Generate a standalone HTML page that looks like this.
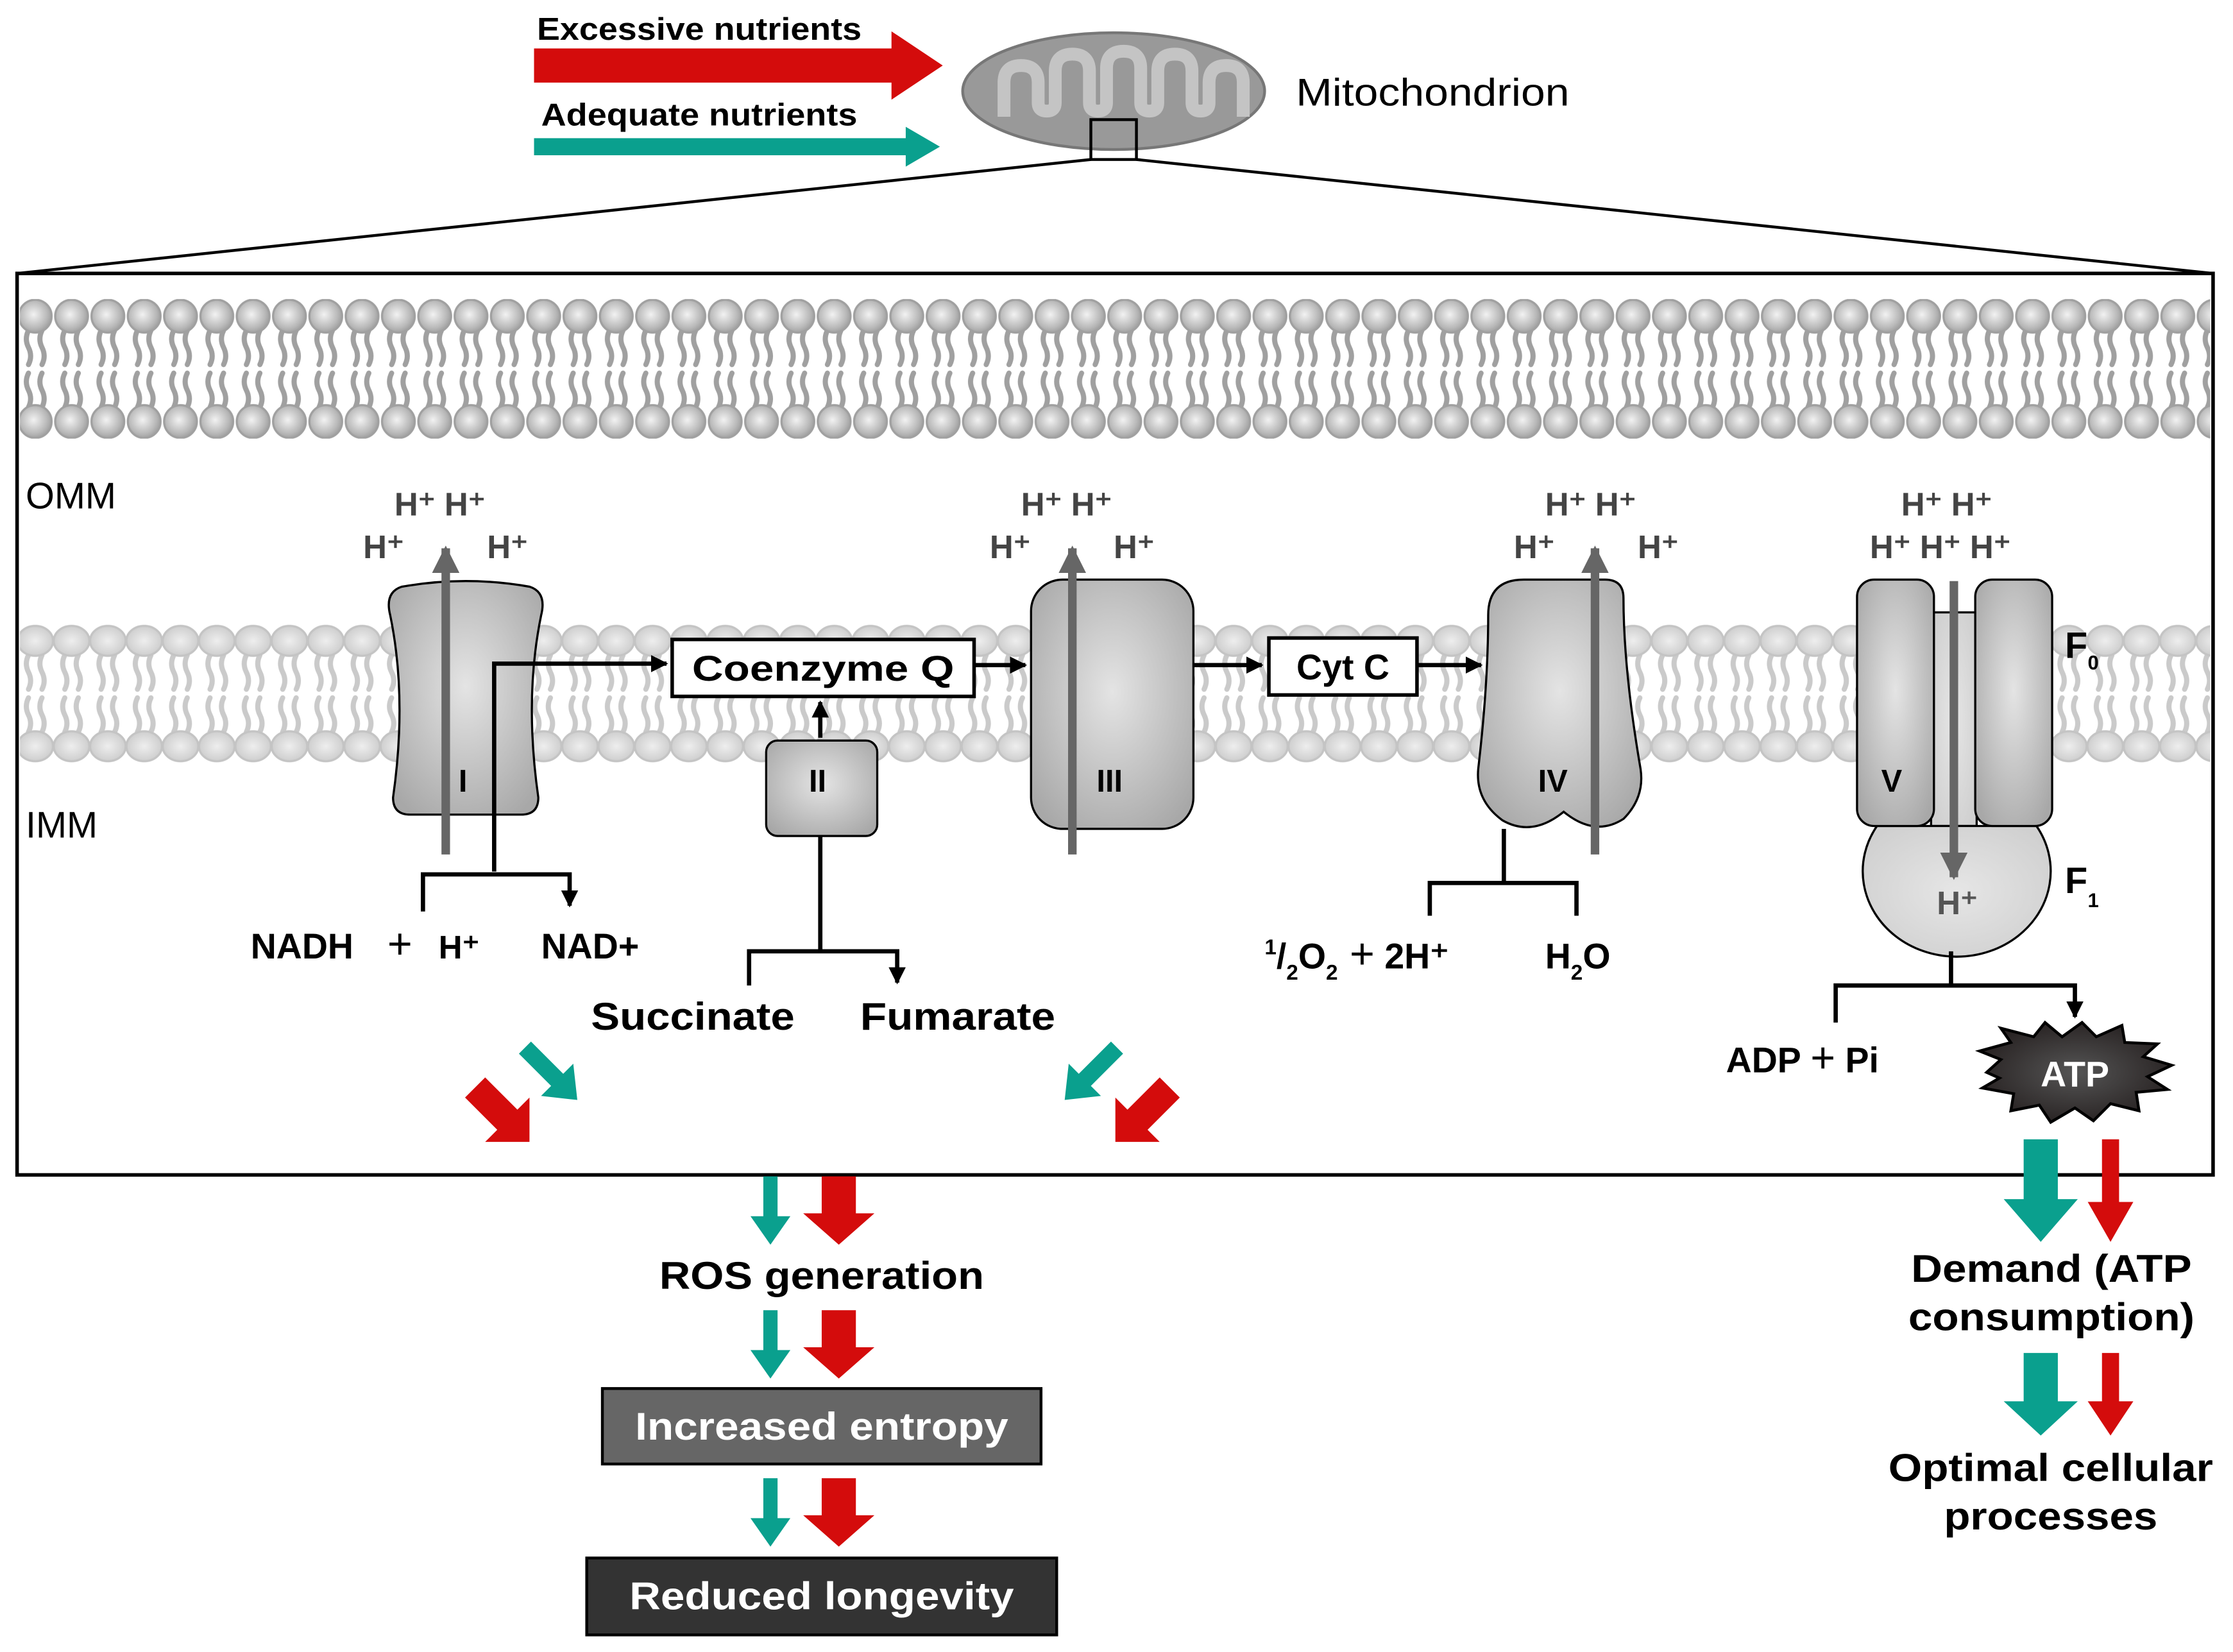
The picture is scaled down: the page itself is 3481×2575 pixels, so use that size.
<!DOCTYPE html>
<html><head><meta charset="utf-8"><style>
html,body{margin:0;padding:0;background:#fff}
svg{display:block}
text{font-family:"Liberation Sans",Arial,sans-serif;font-weight:bold}
</style></head><body>
<svg width="3481" height="2575" viewBox="0 0 1568 1160" preserveAspectRatio="none" xmlns="http://www.w3.org/2000/svg">
<defs>
<radialGradient id="hd" cx="0.45" cy="0.45" r="0.6"><stop offset="0" stop-color="#f2f2f2"/><stop offset="0.7" stop-color="#b8b8b8"/><stop offset="1" stop-color="#999"/></radialGradient>
<radialGradient id="hd2" cx="0.5" cy="0.5" r="0.6"><stop offset="0" stop-color="#eee"/><stop offset="1" stop-color="#c8c8c8"/></radialGradient>
<radialGradient id="cp" cx="0.5" cy="0.45" r="0.65"><stop offset="0" stop-color="#e4e4e4"/><stop offset="1" stop-color="#a8a8a8"/></radialGradient>
<radialGradient id="f1" cx="0.5" cy="0.5" r="0.6"><stop offset="0" stop-color="#e6e6e6"/><stop offset="1" stop-color="#d0d0d0"/></radialGradient>
<radialGradient id="atp" cx="0.5" cy="0.5" r="0.6"><stop offset="0" stop-color="#555"/><stop offset="1" stop-color="#221c1c"/></radialGradient>
<pattern id="mem1" x="12" y="210" width="25.5" height="98" patternUnits="userSpaceOnUse">
<g fill="none" stroke="#a0a0a0" stroke-width="3.6" stroke-linecap="round">
<path d="M8 22 q-3 6 0 12 t0 12"/><path d="M17.5 22 q-3 6 0 12 t0 12"/>
<path d="M8 52 q-3 6 0 12 t0 12"/><path d="M17.5 52 q-3 6 0 12 t0 12"/>
</g>
<circle cx="12.75" cy="12" r="11.5" fill="url(#hd)" stroke="#a0a0a0" stroke-width="1.5"/>
<circle cx="12.75" cy="86" r="11.5" fill="url(#hd)" stroke="#a0a0a0" stroke-width="1.5"/>
</pattern>
<pattern id="mem2" x="12" y="438" width="25.5" height="98" patternUnits="userSpaceOnUse">
<g fill="none" stroke="#cacaca" stroke-width="3.6" stroke-linecap="round">
<path d="M8 22 q-3 6 0 12 t0 12"/><path d="M17.5 22 q-3 6 0 12 t0 12"/>
<path d="M8 52 q-3 6 0 12 t0 12"/><path d="M17.5 52 q-3 6 0 12 t0 12"/>
</g>
<ellipse cx="12.75" cy="12" rx="12.5" ry="10.5" fill="url(#hd2)" stroke="#c4c4c4" stroke-width="1.5"/>
<ellipse cx="12.75" cy="86" rx="12.5" ry="10.5" fill="url(#hd2)" stroke="#c4c4c4" stroke-width="1.5"/>
</pattern>
<marker id="ab" viewBox="0 0 10 10" refX="9" refY="5" markerWidth="4" markerHeight="4" orient="auto"><path d="M0 0L10 5L0 10z" fill="#000"/></marker>
<marker id="ag" viewBox="0 0 10 10" refX="9" refY="5" markerWidth="3.2" markerHeight="3.2" orient="auto"><path d="M0 0L10 5L0 10z" fill="#666"/></marker>
</defs>

<text x="377" y="28" font-size="22" textLength="228" lengthAdjust="spacingAndGlyphs">Excessive nutrients</text>
<path d="M375 34H626V22L662 46L626 70V58H375Z" fill="#d40c0c"/>
<text x="380" y="88" font-size="22" textLength="222" lengthAdjust="spacingAndGlyphs">Adequate nutrients</text>
<path d="M375 97H636V89L660 103L636 117V109H375Z" fill="#0aa08e"/>
<ellipse cx="782" cy="64" rx="106" ry="41" fill="#999" stroke="#777" stroke-width="2"/>
<path d="M705 82 V58 q0-12 12-12 q12 0 12 12 V72 q0 6 6 6 q6 0 6-6 V50 q0-12 12-12 q12 0 12 12 V72 q0 6 6 6 q6 0 6-6 V48 q0-12 12-12 q12 0 12 12 V72 q0 6 6 6 q6 0 6-6 V50 q0-12 12-12 q12 0 12 12 V72 q0 6 6 6 q6 0 6-6 V58 q0-12 12-12 q12 0 12 12 V82" fill="none" stroke="#c4c4c4" stroke-width="9" stroke-linejoin="round"/>
<rect x="766" y="84" width="32" height="28" fill="none" stroke="#000" stroke-width="2"/>
<text x="910" y="74" font-size="27" style="font-weight:normal" textLength="192" lengthAdjust="spacingAndGlyphs">Mitochondrion</text>
<path d="M766 112L12 192M798 112L1554 192" stroke="#000" stroke-width="2"/>

<rect x="12" y="192" width="1542" height="633" fill="#fff" stroke="#000" stroke-width="2.5"/>
<rect x="14" y="210" width="1538" height="98" fill="url(#mem1)"/>
<rect x="14" y="438" width="1538" height="98" fill="url(#mem2)"/>
<text x="18" y="357" font-size="26" style="font-weight:normal">OMM</text>
<text x="18" y="588" font-size="26" style="font-weight:normal">IMM</text>

<g font-size="23" fill="#444">
<text x="277" y="362">H⁺ H⁺</text><text x="255" y="392">H⁺</text><text x="342" y="392">H⁺</text>
<text x="717" y="362">H⁺ H⁺</text><text x="695" y="392">H⁺</text><text x="782" y="392">H⁺</text>
<text x="1085" y="362">H⁺ H⁺</text><text x="1063" y="392">H⁺</text><text x="1150" y="392">H⁺</text>
<text x="1335" y="362">H⁺ H⁺</text><text x="1313" y="392">H⁺ H⁺ H⁺</text>
</g>

<path d="M282 412 Q327 404 372 412 Q384 416 380 432 Q368 490 378 560 Q378 572 366 572 H288 Q276 572 276 560 Q286 490 274 432 Q270 416 282 412Z" fill="url(#cp)" stroke="#000" stroke-width="1.5"/>
<text x="322" y="556" font-size="22">I</text>
<line x1="313" y1="600" x2="313" y2="385" stroke="#666" stroke-width="6" marker-end="url(#ag)"/>
<rect x="538" y="520" width="78" height="67" rx="8" fill="url(#cp)" stroke="#000" stroke-width="1.5"/>
<text x="568" y="556" font-size="22">II</text>
<rect x="724" y="407" width="114" height="175" rx="22" fill="url(#cp)" stroke="#000" stroke-width="1.5"/>
<text x="770" y="556" font-size="22">III</text>
<line x1="753" y1="600" x2="753" y2="385" stroke="#666" stroke-width="6" marker-end="url(#ag)"/>
<path d="M1045 432 Q1045 407 1070 407 H1127 Q1140 407 1140 420 Q1140 470 1152 540 Q1155 560 1140 575 Q1120 588 1098 570 Q1076 588 1055 576 Q1036 562 1038 540 Q1045 480 1045 432Z" fill="url(#cp)" stroke="#000" stroke-width="1.5"/>
<text x="1080" y="556" font-size="22">IV</text>
<line x1="1120" y1="600" x2="1120" y2="385" stroke="#666" stroke-width="6" marker-end="url(#ag)"/>
<rect x="1356" y="430" width="32" height="150" fill="url(#f1)" stroke="#000" stroke-width="1.5"/>
<path d="M1318 580 A66 60 0 1 0 1430 580 Z" fill="url(#f1)" stroke="#000" stroke-width="1.5"/>
<rect x="1304" y="407" width="54" height="173" rx="12" fill="url(#cp)" stroke="#000" stroke-width="1.5"/>
<rect x="1387" y="407" width="54" height="173" rx="12" fill="url(#cp)" stroke="#000" stroke-width="1.5"/>
<text x="1321" y="556" font-size="22">V</text>
<line x1="1372" y1="408" x2="1372" y2="616" stroke="#666" stroke-width="6" marker-end="url(#ag)"/>
<text x="1360" y="642" font-size="23" fill="#555">H⁺</text>
<text x="1450" y="462" font-size="26">F</text><text x="1466" y="470" font-size="14">0</text>
<text x="1450" y="627" font-size="26">F</text><text x="1466" y="637" font-size="14">1</text>

<rect x="472" y="449" width="212" height="40" fill="#fff" stroke="#000" stroke-width="2.5"/>
<text x="486" y="478" font-size="25" textLength="184" lengthAdjust="spacingAndGlyphs">Coenzyme Q</text>
<rect x="891" y="448" width="104" height="40" fill="#fff" stroke="#000" stroke-width="2.5"/>
<text x="943" y="477" font-size="25" text-anchor="middle">Cyt C</text>

<g stroke="#000" stroke-width="3" fill="none">
<path d="M347 612V466H468" marker-end="url(#ab)"/>
<path d="M297 640V614H400V636" marker-end="url(#ab)"/>
<path d="M576 518V493" marker-end="url(#ab)"/>
<path d="M576 587V668"/>
<path d="M526 692V668H630V690" marker-end="url(#ab)"/>
<path d="M684 467H720" marker-end="url(#ab)"/>
<path d="M838 467H886" marker-end="url(#ab)"/>
<path d="M995 467H1040" marker-end="url(#ab)"/>
<path d="M1056 582V620"/>
<path d="M1004 643V620H1107V643"/>
<path d="M1370 668V692"/>
<path d="M1289 718V692H1457V714" marker-end="url(#ab)"/>
</g>
<text x="176" y="673" font-size="25">NADH</text>
<text x="272" y="673" font-size="30" style="font-weight:normal">+</text>
<text x="308" y="673" font-size="23">H⁺</text>
<text x="380" y="673" font-size="25">NAD+</text>
<text x="415" y="723" font-size="27" textLength="143" lengthAdjust="spacingAndGlyphs">Succinate</text>
<text x="604" y="723" font-size="27" textLength="137" lengthAdjust="spacingAndGlyphs">Fumarate</text>
<text x="888" y="680" font-size="25"><tspan font-size="15" dy="-10">1</tspan><tspan dy="10">/</tspan><tspan font-size="15" dy="8">2</tspan><tspan dy="-8">O</tspan><tspan font-size="15" dy="8">2</tspan><tspan dy="-8" font-size="30" style="font-weight:normal"> +</tspan><tspan> 2H⁺</tspan></text>
<text x="1085" y="680" font-size="25">H<tspan font-size="15" dy="8">2</tspan><tspan dy="-8">O</tspan></text>
<text x="1212" y="753" font-size="25">ADP <tspan font-size="30" style="font-weight:normal">+</tspan> Pi</text>
<path d="M1395 753 L1405 744 L1390 738 L1412 732 L1405 722 L1428 728 L1436 718 L1448 728 L1462 718 L1472 728 L1490 720 L1492 732 L1515 733 L1505 742 L1525 748 L1508 756 L1522 765 L1500 767 L1502 780 L1482 775 L1470 787 L1457 778 L1440 788 L1432 776 L1412 780 L1414 768 L1392 764 L1404 757Z" fill="url(#atp)" stroke="#000" stroke-width="2"/>
<text x="1457" y="763" font-size="25" fill="#fff" text-anchor="middle">ATP</text>

<g transform="translate(352 782) rotate(45)"><path d="M-26 -10H6V-22L28 0L6 22V10H-26Z" fill="#d40c0c"/></g>
<g transform="translate(387 754) rotate(45)"><path d="M-26 -6H6V-16L26 0L6 16V6H-26Z" fill="#0aa08e"/></g>
<g transform="translate(766 754) rotate(135)"><path d="M-26 -6H6V-16L26 0L6 16V6H-26Z" fill="#0aa08e"/></g>
<g transform="translate(803 782) rotate(135)"><path d="M-26 -10H6V-22L28 0L6 22V10H-26Z" fill="#d40c0c"/></g>

<g fill="#0aa08e">
<path d="M536 826h10v28h9l-14 20l-14-20h9z"/>
<path d="M536 920h10v28h9l-14 20l-14-20h9z"/>
<path d="M536 1038h10v28h9l-14 20l-14-20h9z"/>
<path d="M1421 800h24v42h14l-26 30l-26-30h14z"/>
<path d="M1421 950h24v34h14l-26 24l-26-24h14z"/>
</g>
<g fill="#d40c0c">
<path d="M577 826h24v26h13l-25 22l-25-22h13z"/>
<path d="M577 920h24v26h13l-25 22l-25-22h13z"/>
<path d="M577 1038h24v26h13l-25 22l-25-22h13z"/>
<path d="M1476 800h12v44h10l-16 28l-16-28h10z"/>
<path d="M1476 950h12v34h10l-16 24l-16-24h10z"/>
</g>
<text x="463" y="905" font-size="27" textLength="228" lengthAdjust="spacingAndGlyphs">ROS generation</text>
<rect x="423" y="975" width="308" height="53" fill="#666" stroke="#000" stroke-width="2"/>
<text x="446" y="1011" font-size="27" fill="#fff" textLength="262" lengthAdjust="spacingAndGlyphs">Increased entropy</text>
<rect x="412" y="1094" width="330" height="54" fill="#333" stroke="#000" stroke-width="2"/>
<text x="442" y="1130" font-size="27" fill="#fff" textLength="270" lengthAdjust="spacingAndGlyphs">Reduced longevity</text>
<text x="1342" y="900" font-size="27" textLength="197" lengthAdjust="spacingAndGlyphs">Demand (ATP</text>
<text x="1340" y="934" font-size="27" textLength="201" lengthAdjust="spacingAndGlyphs">consumption)</text>
<text x="1326" y="1040" font-size="27" textLength="228" lengthAdjust="spacingAndGlyphs">Optimal cellular</text>
<text x="1365" y="1074" font-size="27" textLength="150" lengthAdjust="spacingAndGlyphs">processes</text>
</svg>
</body></html>
